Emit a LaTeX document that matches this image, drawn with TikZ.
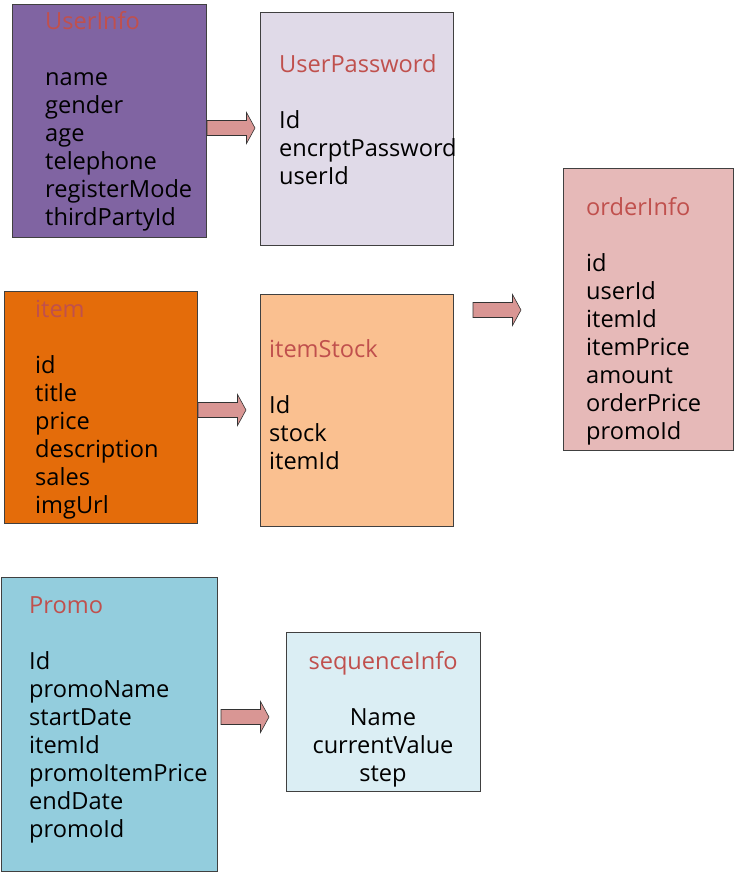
\documentclass[tikz,border=0pt]{standalone}
\usepackage{fontspec}
\setmainfont{Open Sans}
\usepackage{xcolor}
\usetikzlibrary{positioning}
\definecolor{uipurple}{HTML}{8064A2}
\definecolor{uplilac}{HTML}{E0DAE8}
\definecolor{oirose}{HTML}{E6B9B8}
\definecolor{itorange}{HTML}{E46C0A}
\definecolor{isapricot}{HTML}{FAC090}
\definecolor{prteal}{HTML}{93CDDD}
\definecolor{sqice}{HTML}{DBEEF4}
\definecolor{ttlred}{HTML}{C0504D}
\definecolor{arrowpink}{HTML}{D99694}
\definecolor{edgegray}{HTML}{404040}
\newcommand{\ttl}[1]{\textcolor{ttlred}{#1}\\[28pt]}

\begin{document}
\begin{tikzpicture}[x=1pt,y=-1pt,
    table/.style={draw=edgegray,line width=0.8pt,anchor=north west,inner sep=0pt},
    fields/.style={anchor=base west,align=left,text width=#1,inner sep=0pt,
                   font=\fontsize{23.6}{28}\selectfont},
    pics/fatarrow/.style={code={
      \draw[fill=arrowpink,draw=black!80,line width=0.6pt]
        (0,-7.5) -- (39.5,-7.5) -- (39.5,-15.5) -- (48,0) -- (39.5,15.5)
        -- (39.5,7.5) -- (0,7.5) -- cycle;}}]
  \useasboundingbox (0,0) rectangle (735,873);
  % tables
  \node[table,fill=uipurple,minimum width=194pt,minimum height=233pt] (userinfo) at (12,4) {};
  \node[table,fill=uplilac,minimum width=193pt,minimum height=233pt] (userpwd) at (260,12) {};
  \node[table,fill=oirose,minimum width=170pt,minimum height=282pt] (orderinfo) at (563,168) {};
  \node[table,fill=itorange,minimum width=193pt,minimum height=232pt] (item) at (4,291) {};
  \node[table,fill=isapricot,minimum width=193pt,minimum height=232pt] (itemstock) at (260,294) {};
  \node[table,fill=prteal,minimum width=216pt,minimum height=294pt] (promo) at (1,577) {};
  \node[table,fill=sqice,minimum width=194pt,minimum height=159pt] (seqinfo) at (286,632) {};
  % fields
  \node[fields=170pt] (userinfo-txt) at (45,29)
    {\ttl{UserInfo}name\\gender\\age\\telephone\\registerMode\\thirdPartyId};
  \node[fields=190pt] (userpwd-txt) at (279,72)
    {\ttl{UserPassword}Id\\encrptPassword\\userId};
  \node[fields=150pt] (orderinfo-txt) at (586,215)
    {\ttl{orderInfo}id\\userId\\itemId\\itemPrice\\amount\\orderPrice\\promoId};
  \node[fields=170pt] (item-txt) at (35,317)
    {\ttl{item}id\\title\\price\\description\\sales\\imgUrl};
  \node[fields=180pt] (itemstock-txt) at (269,357)
    {\ttl{itemStock}Id\\stock\\itemId};
  \node[fields=190pt] (promo-txt) at (29,613)
    {\ttl{Promo}Id\\promoName\\startDate\\itemId\\promoItemPrice\\endDate\\promoId};
  \node[fields=194pt,align=center,anchor=base] (seqinfo-txt) at (383,669)
    {\ttl{sequenceInfo}Name\\currentValue\\step};
  % block arrows
  \pic at (207,128) {fatarrow};
  \pic at (198,410) {fatarrow};
  \pic at (473,310) {fatarrow};
  \pic at (221,717) {fatarrow};
\end{tikzpicture}
\end{document}
